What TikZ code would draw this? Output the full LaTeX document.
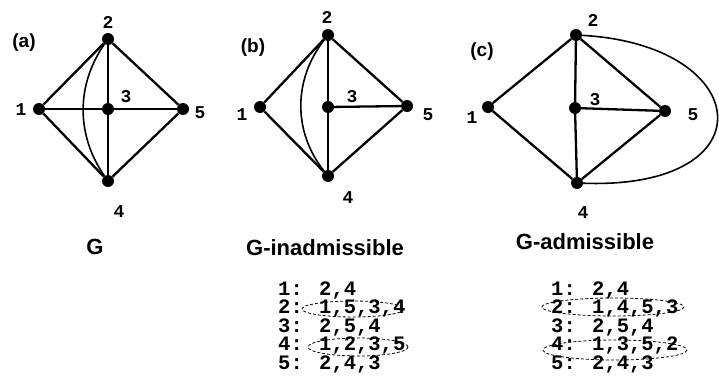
\documentclass[tikz,border=0pt]{standalone}
\usepackage{fontspec}
\setmainfont{Liberation Sans}
\newfontfamily\monof{Liberation Mono}
\begin{document}
\begin{tikzpicture}[x=1pt,y=-1pt,
  vdot/.style={circle,fill=black,inner sep=0pt,minimum size=12pt},
  edge/.style={line width=2.3pt},
  cedge/.style={line width=1.6pt},
  vlab/.style={font=\monof\bfseries\fontsize{18}{18}\selectfont,inner sep=0pt},
  plab/.style={font=\bfseries\fontsize{19}{19}\selectfont,inner sep=0pt},
  captext/.style={font=\bfseries\fontsize{22}{22}\selectfont,inner sep=0pt},
  lst/.style={font=\monof\bfseries\fontsize{20.5}{18.5}\selectfont,inner sep=0pt,anchor=base west,align=left},
  ringmark/.style={line width=0.8pt,densely dashed}]
\useasboundingbox (0,0) rectangle (719,383);
% ---------- (a)
\node[vdot] (a1) at (39,109) {};
\node[vdot] (a2) at (108,39) {};
\node[vdot] (a3) at (108,109) {};
\node[vdot] (a5) at (183,109) {};
\node[vdot] (a4) at (108,181) {};
\draw[edge] (a1) -- (a2) -- (a5) -- (a4) -- (a1);
\draw[edge] (a1) -- (a3) -- (a5);
\draw[edge] (a2) -- (a3) -- (a4);
\draw[cedge] (a2) .. controls (76,85) and (76,135) .. (a4);
\node[vlab] (la1) at (21,110) {1};
\node[vlab] (la2) at (108,22) {2};
\node[vlab] (la3) at (126,97) {3};
\node[vlab] (la5) at (200,113) {5};
\node[vlab] (la4) at (119,212) {4};
\node[plab] (pa) at (24,43) {(a)};
\node[captext] (ca) at (95,247) {G};
% ---------- (b)
\node[vdot] (b1) at (260,107) {};
\node[vdot] (b2) at (328,35) {};
\node[vdot] (b3) at (328,107) {};
\node[vdot] (b5) at (407,106) {};
\node[vdot] (b4) at (328,176) {};
\draw[edge] (b1) -- (b2) -- (b5) -- (b4) -- (b1);
\draw[edge] (b3) -- (b5);
\draw[edge] (b2) -- (b3) -- (b4);
\draw[cedge] (b2) .. controls (293,80) and (293,132) .. (b4);
\node[vlab] (lb1) at (242,115) {1};
\node[vlab] (lb2) at (327,17) {2};
\node[vlab] (lb3) at (352,97) {3};
\node[vlab] (lb5) at (428,115) {5};
\node[vlab] (lb4) at (348,198) {4};
\node[plab] (pb) at (253,48) {(b)};
\node[captext] (cb) at (325,248) {G-inadmissible};
% ---------- (c)
\node[vdot] (c1) at (488,107) {};
\node[vdot] (c2) at (576,35) {};
\node[vdot] (c3) at (575,108) {};
\node[vdot] (c5) at (665,111) {};
\node[vdot] (c4) at (577,183) {};
\draw[edge] (c1) -- (c2) -- (c5) -- (c4) -- (c1);
\draw[edge] (c3) -- (c5);
\draw[edge] (c2) -- (c3) -- (c4);
\draw[cedge] (c2) .. controls (755,45) and (770,190) .. (c4);
\node[vlab] (lc1) at (472,118) {1};
\node[vlab] (lc2) at (593,20) {2};
\node[vlab] (lc3) at (595,100) {3};
\node[vlab] (lc5) at (693,115) {5};
\node[vlab] (lc4) at (583,213) {4};
\node[plab] (pc) at (482,52) {(c)};
\node[captext] (cc) at (585,242) {G-admissible};
% ---------- lists
\node[lst] (lstb) at (278,369) {1: 2,4\\2: 1,5,3,4\\3: 2,5,4\\4: 1,2,3,5\\5: 2,4,3};
\draw[ringmark] (353,309) ellipse [x radius=51, y radius=8];
\draw[ringmark] (358,347) ellipse [x radius=50, y radius=9];
\node[lst] (lstc) at (551,369) {1: 2,4\\2: 1,4,5,3\\3: 2,5,4\\4: 1,3,5,2\\5: 2,4,3};
\draw[ringmark] (613,307) ellipse [x radius=71, y radius=9];
\draw[ringmark] (615,350) ellipse [x radius=72, y radius=10];
\end{tikzpicture}
\end{document}
